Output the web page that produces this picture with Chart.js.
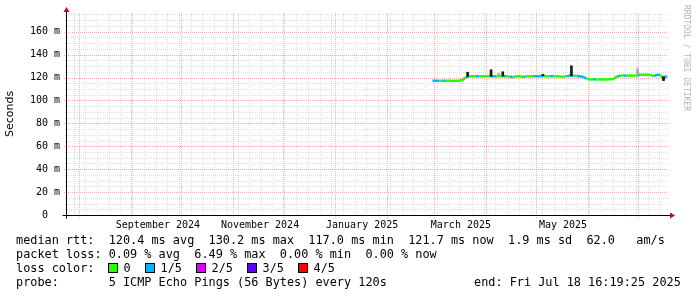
<!DOCTYPE html>
<html>
<head>
<meta charset="utf-8">
<title>SmokePing</title>
<script src="https://cdn.jsdelivr.net/npm/chart.js@4.4.1/dist/chart.umd.min.js"></script>
<style>
  html, body { margin: 0; padding: 0; background: #fff; }
  canvas { display: block; }
</style>
</head>
<body>
<canvas id="grafico" width="697" height="297"></canvas>
<script>
// Dados (x = dias contados a partir de 1 jan 2025)
const dias = [58, 60, 62, 64, 66, 68, 70, 72, 74, 76, 78, 80, 82, 84, 86, 88, 90, 92, 94, 96,
  98, 100, 102, 104, 106, 108, 110, 112, 114, 116, 118, 120, 122, 124, 126, 128, 130, 132, 134, 136,
  138, 140, 142, 144, 146, 148, 150, 152, 154, 156, 158, 160, 162, 164, 166, 168, 170, 172, 174, 176,
  178, 180, 182, 184, 186, 188, 190, 192, 194, 196, 198];
const mediana = [117.2, 117.1, 117.0, 117.1, 117.2, 117.1, 117.0, 117.1, 117.2, 118.0, 120.3, 121.0, 121.1, 121.0, 121.2, 121.0, 121.1, 121.3, 121.2, 121.0,
  121.1, 121.4, 121.1, 120.9, 120.2, 121.0, 121.1, 120.5, 121.0, 121.2, 121.1, 121.2, 121.1, 121.4, 121.2, 121.0, 121.1, 121.2, 120.8, 120.6,
  121.2, 121.6, 121.8, 121.3, 121.1, 120.5, 119.0, 118.3, 118.4, 118.2, 118.3, 118.4, 118.3, 118.5, 118.6, 120.8, 121.6, 121.7, 121.6, 121.8,
  121.7, 121.5, 122.5, 122.3, 122.4, 122.3, 121.2, 122.2, 122.4, 118.5, 121.7];
// pings perdidos (de 5)
const perda = [1, 1, 0, 1, 0, 0, 0, 0, 0, 0, 1, 0, 0, 1, 0, 0, 0, 1, 1, 0,
  0, 1, 0, 1, 0, 0, 0, 1, 0, 0, 1, 1, 1, 0, 0, 1, 0, 0, 0, 0,
  1, 1, 0, 1, 1, 1, 0, 0, 1, 0, 0, 0, 0, 0, 0, 1, 0, 1, 0, 0,
  0, 1, 0, 0, 0, 0, 1, 1, 0, 1, 0];

// fumaça (dispersão dos pings)
const fumacaDias = [79, 93, 100, 124, 141, 196];
const fumacaMin = [121.0, 121.0, 121.2, 121.5, 121.5, 117.3];
const fumacaMax = [124.6, 126.8, 125.0, 122.8, 130.2, 120.8];
const fumacaClaraDias = [97.5, 180.5];
const fumacaClaraMin = [121.5, 122.0];
const fumacaClaraMax = [123.5, 127.6];

// Eixos
const ticksY = [0, 20, 40, 60, 80, 100, 120, 140, 160];
const rotulosY = ['0  ', '20 m', '40 m', '60 m', '80 m', '100 m', '120 m', '140 m', '160 m'];
const rotulosMes = ['September 2024', 'November 2024', 'January 2025', 'March 2025', 'May 2025'];
const diasRotulo = [-106, -45, 16, 75, 136];
const iniciosMes = [-153, -122, -92, -61, -31, 0, 31, 59, 90, 120, 151, 181];
const primeiraSemana = -156.4;

const coresPerda = ['#26ff00', '#00b8ff', '#dd00ff', '#5e00ff', '#ff0000'];
const nomesPerda = ['0', '1/5', '2/5', '3/5', '4/5'];

const linhasTexto = [
  'median rtt:  120.4 ms avg  130.2 ms max  117.0 ms min  121.7 ms now  1.9 ms sd  62.0   am/s',
  'packet loss: 0.09 % avg  6.49 % max  0.00 % min  0.00 % now',
  'loss color:',
  'probe:       5 ICMP Echo Pings (56 Bytes) every 120s'
];
const textoFim = 'end: Fri Jul 18 16:19:25 2025';

const MONO = 'DejaVu Sans Mono';

// Grade, eixos e legenda no estilo rrdtool
const estiloRrd = {
  id: 'estiloRrd',
  beforeDatasetsDraw(chart) {
    const { ctx, chartArea: a, scales: { x, y } } = chart;
    const linha = (x1, y1, x2, y2) => {
      ctx.beginPath(); ctx.moveTo(x1, y1); ctx.lineTo(x2, y2); ctx.stroke();
    };
    ctx.save();
    ctx.lineWidth = 1;
    ctx.setLineDash([1, 1]);
    ctx.strokeStyle = '#e0e0e0';
    for (let v = 5; v < y.max; v += 5) {
      if (v % 20 === 0) continue;
      const py = Math.round(y.getPixelForValue(v)) + 0.5;
      linha(a.left - 2, py, a.right, py);
    }
    for (let d = primeiraSemana; d < x.max; d += 7) {
      const px = Math.round(x.getPixelForValue(d)) + 0.5;
      linha(px, a.top, px, a.bottom + 2);
    }
    ctx.strokeStyle = '#ebb4b4';
    ticksY.forEach(v => {
      if (v === 0) return;
      const py = Math.round(y.getPixelForValue(v)) + 0.5;
      linha(a.left - 3, py, a.right, py);
    });
    iniciosMes.forEach(d => {
      const px = Math.round(x.getPixelForValue(d)) + 0.5;
      linha(px, a.top, px, a.bottom + 3);
    });
    ctx.restore();
  },
  afterDraw(chart) {
    const { ctx, chartArea: a } = chart;
    ctx.save();
    // eixos
    const ax = Math.round(a.left) - 0.5;
    const ay = Math.round(a.bottom) + 0.5;
    ctx.strokeStyle = '#000';
    ctx.lineWidth = 1;
    ctx.beginPath();
    ctx.moveTo(ax, ay + 3); ctx.lineTo(ax, a.top - 1);
    ctx.moveTo(ax - 4, ay); ctx.lineTo(a.right + 2, ay);
    ctx.stroke();
    ctx.fillStyle = '#a01818';
    ctx.beginPath();
    ctx.moveTo(ax, a.top - 6); ctx.lineTo(ax - 3, a.top - 1); ctx.lineTo(ax + 3, a.top - 1); ctx.closePath();
    ctx.fill();
    ctx.beginPath();
    ctx.moveTo(a.right + 7, ay); ctx.lineTo(a.right + 2, ay - 3); ctx.lineTo(a.right + 2, ay + 3); ctx.closePath();
    ctx.fill();

    // marca d'água
    ctx.save();
    ctx.translate(686, 5);
    ctx.rotate(Math.PI / 2);
    ctx.fillStyle = '#b4b4b4';
    ctx.font = '8px ' + MONO;
    ctx.textBaseline = 'middle';
    ctx.fillText('RRDTOOL / TOBI OETIKER', 0, 0);
    ctx.restore();

    // legenda
    ctx.fillStyle = '#000';
    ctx.font = '11.85px ' + MONO;
    ctx.textBaseline = 'middle';
    ctx.textAlign = 'left';
    const ys = [241, 255, 269, 283];
    linhasTexto.forEach((t, i) => ctx.fillText(t, 16, ys[i]));
    ctx.fillText(textoFim, 474, ys[3]);
    const xsQuadro = [108.5, 145.5, 196.5, 247.5, 298.5];
    nomesPerda.forEach((n, i) => {
      ctx.fillStyle = coresPerda[i];
      ctx.fillRect(xsQuadro[i], 264, 9, 9);
      ctx.strokeStyle = '#000';
      ctx.strokeRect(xsQuadro[i], 263.5, 9, 9);
      ctx.fillStyle = '#000';
      ctx.fillText(n, xsQuadro[i] + 15, 269);
    });
    ctx.restore();
  }
};

const pontos = dias.map((d, i) => ({ x: d, y: mediana[i] }));
const fumaca = fumacaDias.map((d, i) => ({ x: d, y: [fumacaMin[i], fumacaMax[i]] }));
const fumacaClara = fumacaClaraDias.map((d, i) => ({ x: d, y: [fumacaClaraMin[i], fumacaClaraMax[i]] }));

const ctx = document.getElementById('grafico').getContext('2d');
const config = {
  type: 'line',
  data: {
    datasets: [
      {
        type: 'bar',
        data: fumacaClara,
        backgroundColor: '#a8a8a8',
        barThickness: 2,
        grouped: false,
        borderWidth: 0
      },
      {
        type: 'bar',
        data: fumaca,
        backgroundColor: '#1a1a1a',
        barThickness: 2,
        grouped: false,
        borderWidth: 0
      },
      {
        label: 'median rtt',
        data: pontos,
        borderWidth: 2.5,
        pointRadius: 0,
        tension: 0,
        borderColor: coresPerda[0],
        segment: {
          borderColor: c => coresPerda[perda[c.p0DataIndex]]
        }
      }
    ]
  },
  options: {
    responsive: false,
    animation: false,
    devicePixelRatio: 1,
    layout: { padding: { top: 13, right: 29, left: 0, bottom: 0 } },
    plugins: { legend: { display: false }, tooltip: { enabled: false } },
    scales: {
      x: {
        type: 'linear',
        offset: false,
        min: -160.3,
        max: 198.7,
        grid: { display: false, drawTicks: false, offset: false },
        border: { display: false },
        afterBuildTicks: s => { s.ticks = diasRotulo.map(v => ({ value: v })); },
        afterFit: s => { s.height = 82; },
        ticks: {
          autoSkip: false,
          maxRotation: 0,
          minRotation: 0,
          padding: 4,
          color: '#000',
          font: { family: MONO, size: 10 },
          callback: (v, i) => rotulosMes[i]
        }
      },
      y: {
        min: 0,
        max: 176.3,
        grid: { display: false, drawTicks: false },
        border: { display: false },
        afterBuildTicks: s => { s.ticks = ticksY.map(v => ({ value: v })); },
        afterFit: s => { s.width = 67; },
        title: {
          display: true,
          text: 'Seconds',
          color: '#000',
          font: { family: 'DejaVu Sans', size: 11 },
          padding: { top: 4, bottom: 4 }
        },
        ticks: {
          padding: 7,
          color: '#000',
          font: { family: MONO, size: 10 },
          callback: (v, i) => rotulosY[i]
        }
      }
    }
  },
  plugins: [estiloRrd]
};

const grafico = new Chart(ctx, config);
</script>
</body>
</html>
